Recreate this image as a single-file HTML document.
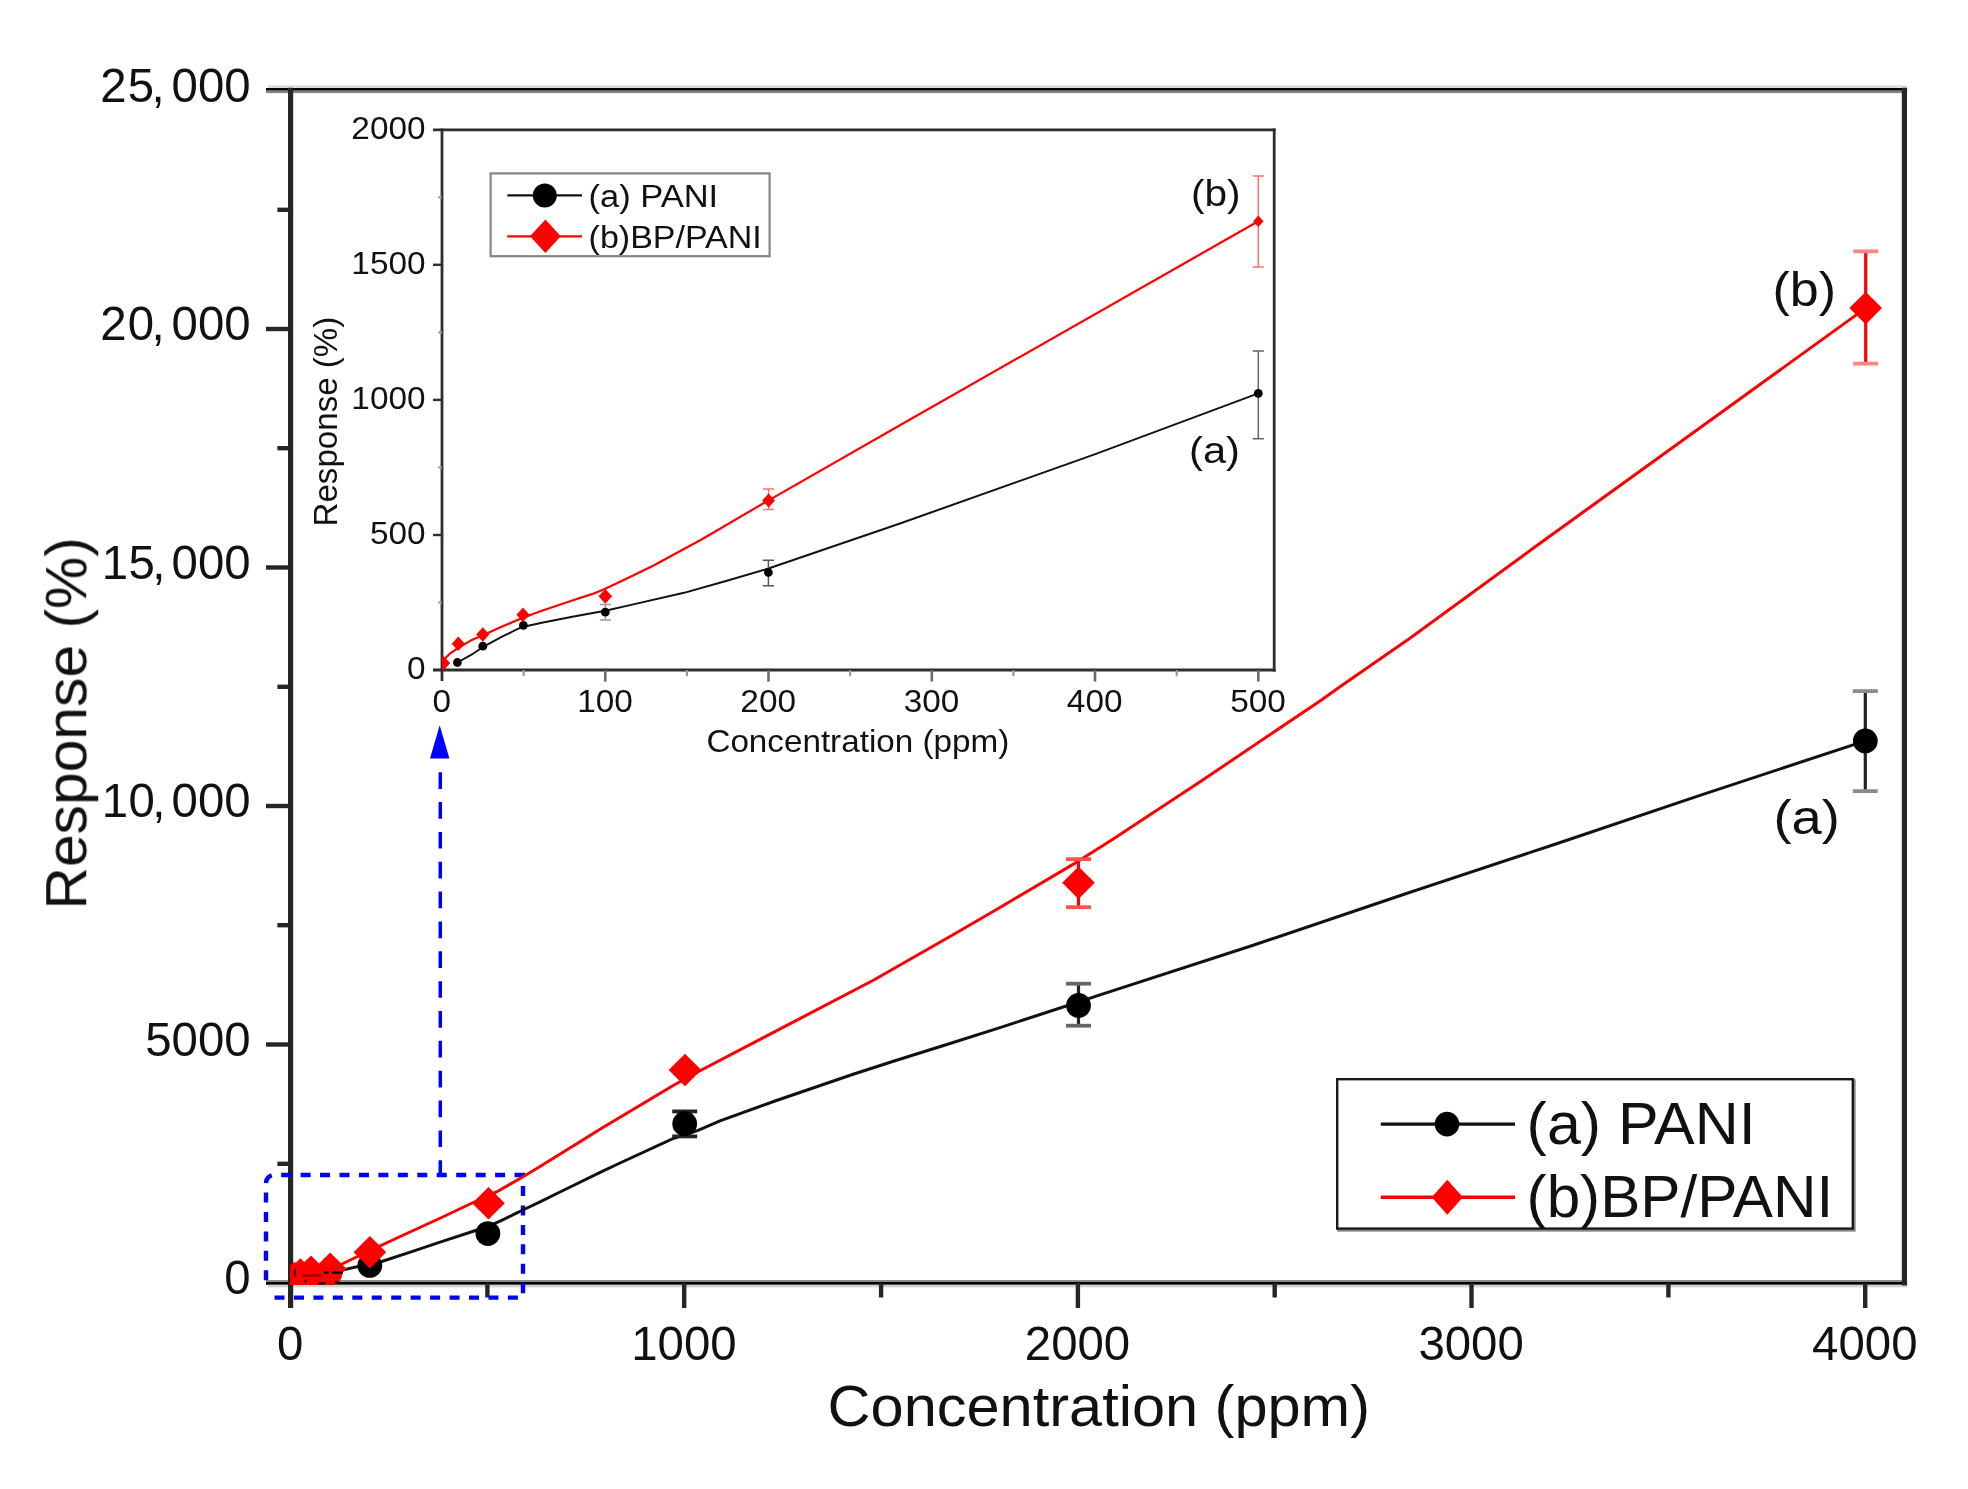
<!DOCTYPE html>
<html lang="en">
<head>
<meta charset="utf-8">
<title>Response vs concentration</title>
<style>
html,body{margin:0;padding:0;background:#fff;}
body{width:1968px;height:1489px;overflow:hidden;}
svg text{font-family:"Liberation Sans", Arial, Helvetica, sans-serif;}
</style>
</head>
<body>
<svg width="1968" height="1489" viewBox="0 0 1968 1489" style="display:block">
<rect x="0" y="0" width="1968" height="1489" fill="#ffffff"/>
<defs><filter id="soft" x="0" y="0" width="1968" height="1489" filterUnits="userSpaceOnUse" color-interpolation-filters="sRGB"><feGaussianBlur stdDeviation="0.6"/></filter></defs>
<g filter="url(#soft)">
<rect x="268" y="85.2" width="1639.1" height="2.9" fill="#dedede"/>
<rect x="266" y="88" width="1641.1" height="2.7" fill="#000"/>
<rect x="266" y="90.7" width="1641.1" height="2.4" fill="#858585"/>
<rect x="266" y="1280" width="1641.1" height="2" fill="#8c8c8c"/>
<rect x="266" y="1282" width="1641.1" height="2.8" fill="#000"/>
<rect x="268" y="1284.8" width="1639.1" height="2.6" fill="#d4d4d4"/>
<g stroke="#262626" stroke-width="5.2" fill="none" stroke-linecap="butt">
<line x1="290.6" y1="87.8" x2="290.6" y2="1308"/>
<line x1="1904.4" y1="87.8" x2="1904.4" y2="1285.5"/>
</g>
<g stroke="#262626" stroke-width="4.4" fill="none">
<line x1="266" y1="1044.5" x2="290.6" y2="1044.5"/>
<line x1="266" y1="806.0" x2="290.6" y2="806.0"/>
<line x1="266" y1="567.5" x2="290.6" y2="567.5"/>
<line x1="266" y1="329.0" x2="290.6" y2="329.0"/>
<line x1="277.4" y1="1163.8" x2="290.6" y2="1163.8"/>
<line x1="277.4" y1="925.2" x2="290.6" y2="925.2"/>
<line x1="277.4" y1="686.8" x2="290.6" y2="686.8"/>
<line x1="277.4" y1="448.2" x2="290.6" y2="448.2"/>
<line x1="277.4" y1="209.8" x2="290.6" y2="209.8"/>
<line x1="684.2" y1="1283.0" x2="684.2" y2="1308"/>
<line x1="1077.9" y1="1283.0" x2="1077.9" y2="1308"/>
<line x1="1471.5" y1="1283.0" x2="1471.5" y2="1308"/>
<line x1="1865.2" y1="1283.0" x2="1865.2" y2="1308"/>
<line x1="487.4" y1="1283.0" x2="487.4" y2="1297.5"/>
<line x1="881.1" y1="1283.0" x2="881.1" y2="1297.5"/>
<line x1="1274.7" y1="1283.0" x2="1274.7" y2="1297.5"/>
<line x1="1668.4" y1="1283.0" x2="1668.4" y2="1297.5"/>
</g>
<g fill="#111" font-size="48.6">
<text transform="translate(250.6,1294.3) scale(0.975,1)" text-anchor="end">0</text>
<text transform="translate(250.6,1055.8) scale(0.975,1)" text-anchor="end">5000</text>
<text transform="translate(250.6,817.3) scale(0.975,1)" text-anchor="end" dx="0 0.4 -2.7 6.3 0 0">10,000</text>
<text transform="translate(250.6,578.8) scale(0.975,1)" text-anchor="end" dx="0 0.4 -2.7 6.3 0 0">15,000</text>
<text transform="translate(250.6,340.3) scale(0.975,1)" text-anchor="end" dx="0 1.2 -2.7 7.1 0 0">20,000</text>
<text transform="translate(250.6,101.8) scale(0.975,1)" text-anchor="end" dx="0 1.2 -2.7 7.1 0 0">25,000</text>
<text transform="translate(290.2,1360) scale(0.975,1)" text-anchor="middle">0</text>
<text transform="translate(683.9,1360) scale(0.975,1)" text-anchor="middle">1000</text>
<text transform="translate(1077.5,1360) scale(0.975,1)" text-anchor="middle">2000</text>
<text transform="translate(1471.1,1360) scale(0.975,1)" text-anchor="middle">3000</text>
<text transform="translate(1864.8,1360) scale(0.975,1)" text-anchor="middle">4000</text>
</g>
<text x="827.6" y="1425.6" font-size="58" fill="#111" textLength="542.4" lengthAdjust="spacingAndGlyphs">Concentration (ppm)</text>
<text transform="translate(86.2,909.5) rotate(-90)" font-size="58" fill="#111" textLength="372.3" lengthAdjust="spacingAndGlyphs">Response (%)</text>
<g stroke="#0000ff" fill="none" stroke-width="4.4">
<path d="M274.5,1297.6 L523,1297.6 L523,1175 L274.5,1175 A8.5,8.5 0 0 0 266,1183.5 L266,1287" stroke-dasharray="10 9.45"/>
<line x1="440.3" y1="772.2" x2="440.3" y2="1177" stroke-width="3.5" stroke-dasharray="16.7 13.15"/>
</g>
<polygon points="439.7,725.2 449.4,758.5 430,758.5" fill="#0000ff"/>
<polyline points="290.6,1281.5 310.0,1277.5 330.0,1273.2 340.0,1270.6 358.0,1266.5 381.7,1261.5 411.1,1251.8 441.6,1241.7 474.1,1231.0 488.0,1226.3 500.6,1220.8 522.9,1210.0 540.0,1201.8 560.0,1192.0 601.7,1171.7 620.0,1163.0 673.2,1138.5 697.4,1130.6 720.0,1120.8 775.0,1101.0 852.4,1074.5 892.6,1061.5 950.0,1043.5 1000.0,1027.6 1078.5,1002.0 1100.0,994.9 1252.4,945.5 1404.9,894.0 1557.3,843.5 1700.0,795.3 1865.3,740.9" fill="none" stroke="#111" stroke-width="3" stroke-linejoin="round"/>
<polyline points="290.6,1281.0 310.0,1276.5 330.0,1270.0 340.0,1265.0 370.0,1250.5 411.1,1231.5 441.6,1217.5 471.1,1203.5 499.6,1190.3 525.1,1175.5 540.0,1166.5 601.7,1128.3 673.2,1085.5 700.0,1070.8 786.9,1025.3 873.8,980.0 950.0,936.5 1000.0,907.5 1078.5,861.1 1111.7,840.0 1202.0,780.5 1320.0,700.9 1341.4,685.8 1406.7,640.6 1532.8,548.5 1724.3,410.2 1865.7,308.1" fill="none" stroke="#ff0000" stroke-width="3" stroke-linejoin="round"/>
<line x1="1865.3" y1="691.1" x2="1865.3" y2="791.1" stroke="#222" stroke-width="3.2"/>
<line x1="1852.8" y1="691.1" x2="1877.8" y2="691.1" stroke="#8c8c8c" stroke-width="3.8000000000000003"/>
<line x1="1852.8" y1="791.1" x2="1877.8" y2="791.1" stroke="#8c8c8c" stroke-width="3.8000000000000003"/>
<line x1="1078.5" y1="983.7" x2="1078.5" y2="1025.7" stroke="#222" stroke-width="3.2"/>
<line x1="1066.0" y1="983.7" x2="1091.0" y2="983.7" stroke="#666" stroke-width="3.8000000000000003"/>
<line x1="1066.0" y1="1025.7" x2="1091.0" y2="1025.7" stroke="#666" stroke-width="3.8000000000000003"/>
<line x1="684.7" y1="1111.4" x2="684.7" y2="1136.4" stroke="#111" stroke-width="3.2"/>
<line x1="672.2" y1="1111.4" x2="697.2" y2="1111.4" stroke="#222" stroke-width="3.8000000000000003"/>
<line x1="672.2" y1="1136.4" x2="697.2" y2="1136.4" stroke="#222" stroke-width="3.8000000000000003"/>
<clipPath id="cl"><rect x="290.6" y="0" width="1700" height="1285"/></clipPath><g clip-path="url(#cl)">
<circle cx="369.8" cy="1265.4" r="12.4" fill="#000"/>
<circle cx="487.9" cy="1233.6" r="12.4" fill="#000"/>
<circle cx="684.7" cy="1123.7" r="12.4" fill="#000"/>
<circle cx="1078.5" cy="1005.4" r="12.4" fill="#000"/>
<circle cx="1865.3" cy="740.9" r="12.4" fill="#000"/>
</g>
<line x1="1865.7" y1="251.3" x2="1865.7" y2="363.6" stroke="#ff0000" stroke-width="3.2"/>
<line x1="1853.2" y1="251.3" x2="1878.2" y2="251.3" stroke="#ff8585" stroke-width="3.8000000000000003"/>
<line x1="1853.2" y1="363.6" x2="1878.2" y2="363.6" stroke="#ff8585" stroke-width="3.8000000000000003"/>
<line x1="1078.5" y1="859.2" x2="1078.5" y2="907.2" stroke="#ff0000" stroke-width="3.2"/>
<line x1="1066.0" y1="859.2" x2="1091.0" y2="859.2" stroke="#ff5050" stroke-width="3.8000000000000003"/>
<line x1="1066.0" y1="907.2" x2="1091.0" y2="907.2" stroke="#ff5050" stroke-width="3.8000000000000003"/>
<g clip-path="url(#cl)">
<circle cx="294.5" cy="1281.7" r="12.4" fill="#ff0000"/>
<circle cx="300.4" cy="1278.8" r="12.4" fill="#ff0000"/>
<circle cx="311" cy="1275.1" r="12.4" fill="#ff0000"/>
<circle cx="330.1" cy="1272.8" r="12.4" fill="#ff0000"/>
<polygon points="290.6,1263.0 306.90000000000003,1279.3 290.6,1295.6 274.3,1279.3" fill="#ff0000"/>
<polygon points="294.5,1261.7 310.8,1278 294.5,1294.3 278.2,1278" fill="#ff0000"/>
<polygon points="300.4,1258.2 316.7,1274.5 300.4,1290.8 284.09999999999997,1274.5" fill="#ff0000"/>
<polygon points="311,1255.4 327.3,1271.7 311,1288.0 294.7,1271.7" fill="#ff0000"/>
<polygon points="330.2,1252.4 346.5,1268.7 330.2,1285.0 313.9,1268.7" fill="#ff0000"/>
<polygon points="369.9,1235.9 386.2,1252.2 369.9,1268.5 353.59999999999997,1252.2" fill="#ff0000"/>
<polygon points="488.5,1187.0 504.8,1203.3 488.5,1219.6 472.2,1203.3" fill="#ff0000"/>
<polygon points="685,1053.7 701.3,1070 685,1086.3 668.7,1070" fill="#ff0000"/>
<polygon points="1078.5,866.5 1094.8,882.8 1078.5,899.0999999999999 1062.2,882.8" fill="#ff0000"/>
<polygon points="1865.7,291.8 1882.0,308.1 1865.7,324.40000000000003 1849.4,308.1" fill="#ff0000"/>
</g>
<g stroke-width="2.4"><path d="M323.9,1272.6H328.8M331.8,1272.6H342.8" stroke="#000"/><path d="M302,1275.6H322.7" stroke="#a00000"/><path d="M295,1268.8V1276.5" stroke="#500" stroke-width="2.2"/><path d="M304.4,1281H306.8M318,1283.4H325.6M335,1282.4H339.6" stroke="#300"/></g>
<text x="1772.5" y="306.2" font-size="49" fill="#111" textLength="63.6" lengthAdjust="spacingAndGlyphs">(b)</text>
<text x="1773.4" y="834.4" font-size="49" fill="#111" textLength="66.5" lengthAdjust="spacingAndGlyphs">(a)</text>
<rect x="1338.5" y="1080.5" width="516" height="150" fill="none" stroke="#8a8a8a" stroke-width="2.4"/>
<rect x="1337.2" y="1079.2" width="515.6" height="149.4" fill="#fff" stroke="#1a1a1a" stroke-width="2.4"/>
<line x1="1380.8" y1="1124.1" x2="1515" y2="1124.1" stroke="#111" stroke-width="3.4"/>
<circle cx="1447" cy="1124.1" r="12.3" fill="#000"/>
<line x1="1380.8" y1="1197.3" x2="1515" y2="1197.3" stroke="#ff0000" stroke-width="3.4"/>
<polygon points="1447.3,1179.8 1462.9,1197.3 1447.3,1214.8 1431.7,1197.3" fill="#ff0000"/>
<text x="1526.6" y="1144.2" font-size="58.5" fill="#111" textLength="229" lengthAdjust="spacingAndGlyphs">(a) PANI</text>
<text x="1526.6" y="1217" font-size="58.5" fill="#111" textLength="306.6" lengthAdjust="spacingAndGlyphs">(b)BP/PANI</text>
<g stroke="#2e2e2e" stroke-width="2.8" fill="none">
<line x1="433" y1="129.9" x2="1275.7" y2="129.9"/>
<line x1="433" y1="670.0" x2="1275.7" y2="670.0"/>
<line x1="442.0" y1="128.4" x2="442.0" y2="681"/>
<line x1="1274.2" y1="128.4" x2="1274.2" y2="671.5"/>
</g>
<g stroke="#2e2e2e" stroke-width="2.4" fill="none">
<line x1="433" y1="535.0" x2="442.0" y2="535.0"/>
<line x1="433" y1="399.9" x2="442.0" y2="399.9"/>
<line x1="433" y1="264.8" x2="442.0" y2="264.8"/>
</g>
<g stroke="#6a6a6a" stroke-width="2.6" fill="none">
<line x1="605.3" y1="670.0" x2="605.3" y2="681.6"/>
<line x1="768.5" y1="670.0" x2="768.5" y2="681.6"/>
<line x1="931.8" y1="670.0" x2="931.8" y2="681.6"/>
<line x1="1095.0" y1="670.0" x2="1095.0" y2="681.6"/>
<line x1="1258.3" y1="670.0" x2="1258.3" y2="681.6"/>
</g>
<g stroke="#999" stroke-width="2.2" fill="none">
<line x1="438.3" y1="602.5" x2="442.0" y2="602.5"/>
<line x1="438.3" y1="467.4" x2="442.0" y2="467.4"/>
<line x1="438.3" y1="332.4" x2="442.0" y2="332.4"/>
<line x1="438.3" y1="197.3" x2="442.0" y2="197.3"/>
<line x1="523.6" y1="670.0" x2="523.6" y2="676.2"/>
<line x1="686.9" y1="670.0" x2="686.9" y2="676.2"/>
<line x1="850.1" y1="670.0" x2="850.1" y2="676.2"/>
<line x1="1013.4" y1="670.0" x2="1013.4" y2="676.2"/>
<line x1="1176.7" y1="670.0" x2="1176.7" y2="676.2"/>
</g>
<g fill="#111" font-size="31.5">
<text transform="translate(425.6,678.8) scale(1.06,1)" text-anchor="end">0</text>
<text transform="translate(425.6,543.8) scale(1.06,1)" text-anchor="end">500</text>
<text transform="translate(425.6,408.7) scale(1.06,1)" text-anchor="end">1000</text>
<text transform="translate(425.6,273.6) scale(1.06,1)" text-anchor="end">1500</text>
<text transform="translate(425.6,138.6) scale(1.06,1)" text-anchor="end">2000</text>
<text transform="translate(441.7,712) scale(1.06,1)" text-anchor="middle">0</text>
<text transform="translate(605.0,712) scale(1.06,1)" text-anchor="middle">100</text>
<text transform="translate(768.2,712) scale(1.06,1)" text-anchor="middle">200</text>
<text transform="translate(931.5,712) scale(1.06,1)" text-anchor="middle">300</text>
<text transform="translate(1094.7,712) scale(1.06,1)" text-anchor="middle">400</text>
<text transform="translate(1258.0,712) scale(1.06,1)" text-anchor="middle">500</text>
</g>
<text x="706.4" y="752.3" font-size="32" fill="#111" textLength="302.8" lengthAdjust="spacingAndGlyphs">Concentration (ppm)</text>
<text transform="translate(337.2,526.5) rotate(-90)" font-size="32.5" fill="#111" textLength="209.8" lengthAdjust="spacingAndGlyphs">Response (%)</text>
<polyline points="457.4,662.5 470.7,655.2 482.8,647.2 501.1,637.1 521.5,627.2 541.8,622.8 572.3,616.7 605.3,610.7 630.0,605.1 684.0,592.8 726.0,581.0 768.4,568.5 900.0,523.5 1094.6,454.3 1258.3,393.3" fill="none" stroke="#111" stroke-width="1.9" stroke-linejoin="round"/>
<polyline points="443.2,663.0 446.0,657.5 450.3,653.3 457.4,648.3 470.7,640.6 483.3,635.0 501.1,626.9 523.0,617.8 541.8,610.7 572.3,600.5 592.6,593.9 605.3,588.8 630.0,577.1 653.6,565.5 702.4,539.0 768.6,500.4 909.1,420.0 1258.3,221.2" fill="none" stroke="#ff0000" stroke-width="2.2" stroke-linejoin="round"/>
<path d="M1258.3,350.9V438.7M1252.7,350.9H1263.8999999999999M1252.7,438.7H1263.8999999999999" stroke="#666" stroke-width="1.5" fill="none"/>
<path d="M768.4,560.3V585.7M762.8,560.3H774.0M762.8,585.7H774.0" stroke="#555" stroke-width="1.5" fill="none"/>
<path d="M605.4,604.5V620M599.8,604.5H611.0M599.8,620H611.0" stroke="#999" stroke-width="1.5" fill="none"/>
<path d="M1258.3,175.9V266.9M1252.7,175.9H1263.8999999999999M1252.7,266.9H1263.8999999999999" stroke="#ff7070" stroke-width="1.5" fill="none"/>
<path d="M768.6,489.1V509.6M763.0,489.1H774.2M763.0,509.6H774.2" stroke="#ff7070" stroke-width="1.5" fill="none"/>
<clipPath id="ci"><rect x="442.0" y="100" width="900" height="570.0"/></clipPath><g clip-path="url(#ci)">
<circle cx="457.4" cy="662.5" r="4.4" fill="#000"/>
<circle cx="482.8" cy="646.2" r="4.4" fill="#000"/>
<circle cx="523.4" cy="625.3" r="4.4" fill="#000"/>
<circle cx="605.3" cy="612.2" r="4.4" fill="#000"/>
<circle cx="768.4" cy="572.5" r="4.4" fill="#000"/>
<circle cx="1258.3" cy="393.3" r="4.4" fill="#000"/>
<polygon points="443.6,656.0999999999999 450.20000000000005,663.3 443.6,670.5 437.0,663.3" fill="#ff0000"/>
<polygon points="458.3,636.5 464.90000000000003,643.7 458.3,650.9000000000001 451.7,643.7" fill="#ff0000"/>
<polygon points="482.8,627.3 489.40000000000003,634.5 482.8,641.7 476.2,634.5" fill="#ff0000"/>
<polygon points="523,607.5 529.6,614.7 523,621.9000000000001 516.4,614.7" fill="#ff0000"/>
<polygon points="605.3,588.9 612.0999999999999,596.3 605.3,603.6999999999999 598.5,596.3" fill="#ff0000"/>
<polygon points="768.6,493.4 775.0,500.4 768.6,507.4 762.2,500.4" fill="#ff0000"/>
<polygon points="1258.3,215.4 1263.5,221.2 1258.3,226.99999999999997 1253.1,221.2" fill="#ff0000"/>
</g>
<text x="1191" y="205.6" font-size="37.5" fill="#111" textLength="49.6" lengthAdjust="spacingAndGlyphs">(b)</text>
<text x="1189" y="463.2" font-size="37.5" fill="#111" textLength="51" lengthAdjust="spacingAndGlyphs">(a)</text>
<rect x="490.6" y="173.4" width="279" height="82.8" fill="#fff" stroke="#858585" stroke-width="2.2"/>
<line x1="507.3" y1="195.4" x2="582" y2="195.4" stroke="#111" stroke-width="2.2"/>
<circle cx="544.8" cy="195.4" r="12" fill="#000"/>
<line x1="507.3" y1="236.3" x2="582" y2="236.3" stroke="#ff0000" stroke-width="2.2"/>
<polygon points="545.4,219.6 560.8,236.3 545.4,253 530,236.3" fill="#ff0000"/>
<text x="588.6" y="206.7" font-size="31" fill="#111" textLength="129.6" lengthAdjust="spacingAndGlyphs">(a) PANI</text>
<text x="588.6" y="247.9" font-size="31" fill="#111" textLength="173.2" lengthAdjust="spacingAndGlyphs">(b)BP/PANI</text>
</g>
</svg>
</body>
</html>
